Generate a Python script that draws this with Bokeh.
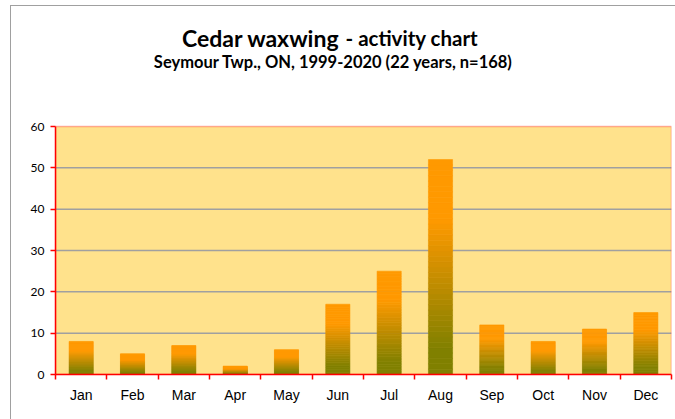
from bokeh.plotting import figure
from bokeh.models import Range1d, FixedTicker, Label, ColumnDataSource, BoxAnnotation, Span
from bokeh.embed import file_html
from bokeh.resources import INLINE

months = ["Jan", "Feb", "Mar", "Apr", "May", "Jun", "Jul", "Aug", "Sep", "Oct", "Nov", "Dec"]
counts = [8, 5, 7, 2, 6, 17, 25, 52, 12, 8, 11, 15]
y_ticks = [0, 10, 20, 30, 40, 50, 60]
title_main = "Cedar waxwing"
title_rest = "- activity chart"
subtitle = "Seymour Twp., ON, 1999-2020 (22 years, n=168)"

OLIVE = (128, 128, 0)
ORANGE = (255, 153, 0)


def grad_color(t):
    # olive at bottom, orange at top
    lo, hi = 0.12, 0.72
    f = min(max((t - lo) / (hi - lo), 0.0), 1.0)
    c = [round(OLIVE[i] + (ORANGE[i] - OLIVE[i]) * f) for i in range(3)]
    return "#%02x%02x%02x" % tuple(c)


centers = [i + 0.5 for i in range(len(months))]
N = 40
xs, bots, tops, cols = [], [], [], []
for xc, v in zip(centers, counts):
    for k in range(N):
        xs.append(xc)
        bots.append(v * k / N)
        tops.append(v * (k + 1) / N)
        cols.append(grad_color((k + 0.5) / N))
src = ColumnDataSource(dict(x=xs, bottom=bots, top=tops, color=cols))

# frame spans from the top of the canvas down to the x axis; plot area = 0..60
FRAME_H = 374
PLOT_H = 248
ymax = y_ticks[-1]
y_view = ymax * FRAME_H / PLOT_H

p = figure(width=675, height=419, output_backend="svg", toolbar_location=None,
           x_range=Range1d(0, len(months)), y_range=Range1d(0, y_view),
           min_border_left=55, min_border_right=4, min_border_top=0, min_border_bottom=45)
p.background_fill_alpha = 0
p.border_fill_alpha = 0
p.outline_line_color = None
p.styles = {
    "background-image": "linear-gradient(#A0A0A0,#A0A0A0), linear-gradient(#A0A0A0,#A0A0A0)",
    "background-size": "1px 100%, 100% 1px",
    "background-position": "10px 5px, 10px 5px",
    "background-repeat": "no-repeat",
}

# plot area
p.add_layout(BoxAnnotation(left=0, right=len(months), bottom=0, top=ymax,
                           fill_color="#FFE28C", fill_alpha=1, line_color=None,
                           level="underlay"))
for t in y_ticks[1:-1]:
    p.add_layout(Span(location=t, dimension="width", line_color="#A0A0A0",
                      line_width=1.5, level="underlay"))

p.vbar(x="x", bottom="bottom", top="top", width=0.47, source=src,
       fill_color="color", line_color="color", line_width=0.6)

p.add_layout(BoxAnnotation(left=0, right=len(months), bottom=0, top=ymax,
                           fill_alpha=0, line_color="#FF0000", line_width=1.5,
                           level="overlay"))

p.xgrid.visible = False
p.ygrid.visible = False

# x axis
xa = p.xaxis[0]
xa.ticker = FixedTicker(ticks=centers, minor_ticks=list(range(len(months) + 1)))
xa.major_label_overrides = {c: m for c, m in zip(centers, months)}
xa.major_tick_line_color = None
xa.minor_tick_line_color = "#FF0000"
xa.minor_tick_line_width = 1.5
xa.minor_tick_in = 0
xa.minor_tick_out = 5
xa.axis_line_color = "#FF0000"
xa.axis_line_width = 1.5
xa.major_label_text_font = "Liberation Sans"
xa.major_label_text_font_size = "14px"
xa.major_label_text_color = "black"
xa.major_label_standoff = 6

ya = p.yaxis[0]
ya.bounds = (0, ymax)
ya.ticker = FixedTicker(ticks=y_ticks)
ya.major_tick_line_color = "#FF0000"
ya.major_tick_line_width = 1.5
ya.major_tick_in = 0
ya.major_tick_out = 5
ya.minor_tick_line_color = None
ya.axis_line_color = "#FF0000"
ya.axis_line_width = 1.5
ya.major_label_text_font = "Lato"
ya.major_label_text_font_size = "12px"
ya.major_label_text_color = "black"
ya.major_label_standoff = 6

# titles (screen units relative to the frame; y measured from the frame bottom)
p.add_layout(Label(x=284, y=337, x_units="screen", y_units="screen", text=title_main,
                   text_font="Lato", text_font_style="bold", text_font_size="23px",
                   text_align="right", text_baseline="alphabetic", text_color="black"))
p.add_layout(Label(x=290, y=337, x_units="screen", y_units="screen", text=title_rest,
                   text_font="Lato", text_font_style="bold", text_font_size="20.5px",
                   text_align="left", text_baseline="alphabetic", text_color="black"))
p.add_layout(Label(x=278, y=313, x_units="screen", y_units="screen", text=subtitle,
                   text_font="Lato", text_font_style="bold", text_font_size="16.5px",
                   text_align="center", text_baseline="alphabetic", text_color="black"))

open("out.html", "w").write(file_html(p, INLINE))
